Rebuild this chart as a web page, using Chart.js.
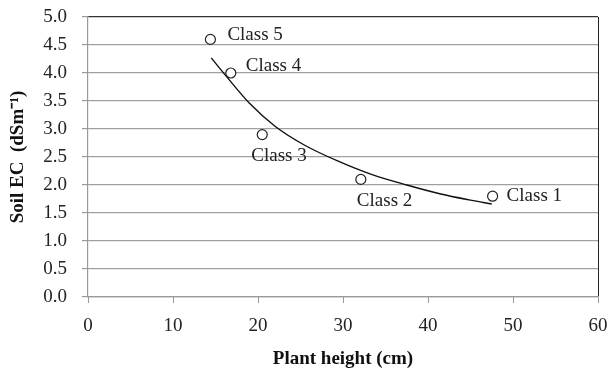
<!DOCTYPE html>
<html>
<head>
<meta charset="utf-8">
<script src="https://cdn.jsdelivr.net/npm/chart.js@4"></script>
<style>
  html, body { margin: 0; padding: 0; background: #fff; }
  #wrap { width: 608px; height: 369px; }
</style>
</head>
<body>
<div id="wrap"><canvas id="chart"></canvas></div>
<script>
// classes
const classNames = ["Class 1", "Class 2", "Class 3", "Class 4", "Class 5"];
const plantHeight = [47.6, 32.1, 20.5, 16.8, 14.4];
const soilEC = [1.8, 2.1, 2.9, 4.0, 4.6];

// trend curve
const trendX = [14.5, 16.5, 19, 22, 25.5, 29.5, 33.5, 37.5, 41.5, 45, 47.5];
const trendY = [4.27, 3.9, 3.46, 3.05, 2.71, 2.42, 2.18, 2.0, 1.84, 1.73, 1.66];

const serif = "'Liberation Serif', 'Times New Roman', serif";

// where each class label sits relative to its marker
const labelOffset = [
  { dx: 14, dy: 0 },
  { dx: -4, dy: 22 },
  { dx: -11, dy: 21 },
  { dx: 15, dy: -7 },
  { dx: 17, dy: -4 },
];

const classLabels = {
  id: "classLabels",
  afterDatasetsDraw(chart) {
    const ctx = chart.ctx;
    const meta = chart.getDatasetMeta(0);
    ctx.save();
    ctx.font = "19px " + serif;
    ctx.fillStyle = "#222";
    ctx.textAlign = "left";
    ctx.textBaseline = "middle";
    meta.data.forEach((pt, i) => {
      const off = labelOffset[i];
      ctx.fillText(classNames[i], pt.x + off.dx, pt.y + off.dy);
    });
    ctx.restore();
  },
};

const points = plantHeight.map((x, i) => ({ x: x, y: soilEC[i] }));
const trend = trendX.map((x, i) => ({ x: x, y: trendY[i] }));

new Chart(document.getElementById("chart"), {
  type: "scatter",
  data: {
    datasets: [
      {
        label: "Classes",
        data: points,
        pointStyle: "circle",
        pointRadius: 5,
        pointBorderWidth: 1.2,
        pointBackgroundColor: "#fff",
        pointBorderColor: "#222",
        showLine: false,
      },
      {
        type: "line",
        label: "Trend",
        data: trend,
        borderColor: "#111",
        borderWidth: 1.4,
        pointRadius: 0,
        cubicInterpolationMode: "monotone",
        fill: false,
      },
    ],
  },
  options: {
    responsive: true,
    maintainAspectRatio: false,
    animation: false,
    layout: { padding: { top: 17, right: 10, left: 0, bottom: 0 } },
    plugins: {
      legend: { display: false },
      tooltip: { enabled: false },
    },
    scales: {
      x: {
        type: "linear",
        min: 0,
        max: 60,
        afterFit: (s) => {
          s.height = 72;
          s.paddingLeft = 0;
          s.paddingRight = 0;
        },
        ticks: {
          stepSize: 10,
          padding: 12,
          color: "#222",
          font: { family: serif, size: 19 },
          maxRotation: 0,
        },
        grid: {
          color: (c) => (c.tick && c.tick.value === 60 ? "#222" : "transparent"),
          tickColor: "#999",
          tickLength: 6,
          lineWidth: 1,
        },
        border: { color: "#999", width: 1.2 },
        title: {
          display: true,
          text: "Plant height (cm)",
          color: "#111",
          font: { family: serif, size: 19, weight: "bold", lineHeight: 1 },
          padding: { top: 0, bottom: 0 },
        },
      },
      y: {
        min: 0,
        max: 5,
        afterFit: (s) => {
          s.width = 88;
          s.paddingTop = 0;
          s.paddingBottom = 0;
        },
        ticks: {
          stepSize: 0.5,
          padding: 15,
          color: "#222",
          font: { family: serif, size: 19 },
          callback: (v) => v.toFixed(1),
        },
        grid: {
          color: (c) => (c.tick && c.tick.value === 5 ? "#333" : "#a0a0a0"),
          tickColor: "#999",
          tickLength: 6,
          lineWidth: 1.2,
        },
        border: { color: "#999", width: 1.2 },
        title: {
          display: true,
          text: "Soil EC  (dSm\u207B\u00B9)",
          color: "#111",
          font: { family: serif, size: 19, weight: "bold" },
          padding: { top: 7, bottom: 0 },
        },
      },
    },
  },
  plugins: [classLabels],
});
</script>
</body>
</html>
